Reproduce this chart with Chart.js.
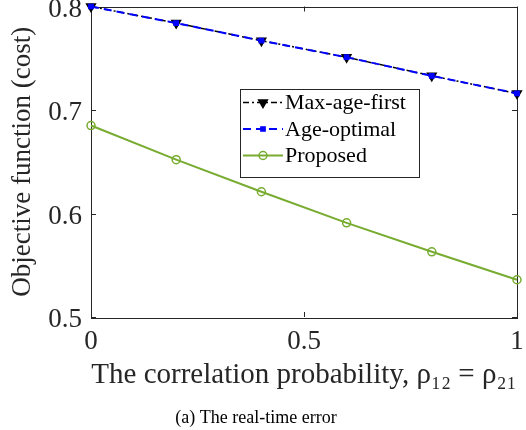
<!DOCTYPE html>
<html><head><meta charset="utf-8">
<script src="https://cdn.jsdelivr.net/npm/chart.js@4/dist/chart.umd.min.js"></script>
<style>html,body{margin:0;padding:0;background:#fff}#wrap{width:526px;height:430px;position:relative}</style>
</head><body><div id="wrap"><canvas id="c" width="526" height="430"></canvas></div>
<script>
const xValues = [0, 0.2, 0.4, 0.6, 0.8, 1];
const maxAgeFirst = [0.800, 0.784, 0.767, 0.751, 0.733, 0.716];
const ageOptimal = [0.800, 0.784, 0.767, 0.751, 0.733, 0.716];
const proposed = [0.685, 0.652, 0.621, 0.591, 0.563, 0.536];
const yTickValues = [0.5, 0.6, 0.7, 0.8];
const xTickValues = [0, 0.5, 1];
const seriesNames = ['Max-age-first', 'Age-optimal', 'Proposed'];
const xTitle = 'The correlation probability, \u03C1\u2081\u2082 = \u03C1\u2082\u2081';
const yTitle = 'Objective function (cost)';
const caption = '(a) The real-time error';

const SERIF = "'Liberation Serif', 'DejaVu Serif', serif";
const AXIS = '#262626';
const styles = [
  {color: '#000000', dash: [6, 3, 2, 3], width: 1.5, point: 'triangle', rot: 180, r: 5, fill: '#000000'},
  {color: '#0000FF', dash: [8, 5], width: 2, point: 'rect', rot: 0, r: 3, fill: '#0000FF'},
  {color: '#77AC30', dash: [], width: 2, point: 'circle', rot: 0, r: 4, fill: 'rgba(0,0,0,0)'}
];
const values = [maxAgeFirst, ageOptimal, proposed];

const datasets = seriesNames.map((name, i) => ({
  label: name,
  data: xValues.map((x, j) => ({x: x, y: values[i][j]})),
  borderColor: styles[i].color,
  borderDash: styles[i].dash,
  borderWidth: styles[i].width,
  pointStyle: styles[i].point,
  pointRotation: styles[i].rot,
  pointRadius: styles[i].r,
  pointBorderWidth: 1.5,
  pointBackgroundColor: styles[i].fill,
  pointBorderColor: styles[i].color,
  backgroundColor: styles[i].fill,
  fill: false,
  tension: 0,
  clip: false,
  order: [1, 0, 2][i]
}));

const boxPlugin = {
  id: 'box',
  beforeDatasetsDraw(chart) {
    const ctx = chart.ctx, a = chart.chartArea;
    const xs = chart.scales.x, ys = chart.scales.y;
    ctx.save();
    ctx.strokeStyle = AXIS; ctx.lineWidth = 1; ctx.setLineDash([]);
    ctx.strokeRect(Math.round(a.left) + 0.5, Math.round(a.top) + 0.5, Math.round(a.right - a.left), Math.round(a.bottom - a.top));
    const tl = 5;
    ctx.beginPath();
    xTickValues.forEach(v => {
      const px = Math.round(xs.getPixelForValue(v)) + 0.5;
      ctx.moveTo(px, a.bottom); ctx.lineTo(px, a.bottom - tl);
      ctx.moveTo(px, a.top); ctx.lineTo(px, a.top + tl);
    });
    yTickValues.forEach(v => {
      const py = Math.round(ys.getPixelForValue(v)) + 0.5;
      ctx.moveTo(a.left, py); ctx.lineTo(a.left + tl, py);
      ctx.moveTo(a.right, py); ctx.lineTo(a.right - tl, py);
    });
    ctx.stroke();
    ctx.restore();
  },
  afterDraw(chart) {
    const ctx = chart.ctx, a = chart.chartArea;
    ctx.save();
    // legend
    const lx = a.left + 149, ly = a.top + 82, lw = 179, lh = 88;
    ctx.fillStyle = '#fff';
    ctx.fillRect(lx, ly, lw, lh);
    ctx.strokeStyle = AXIS; ctx.lineWidth = 1;
    ctx.strokeRect(Math.round(lx) + 0.5, Math.round(ly) + 0.5, lw, lh);
    ctx.font = "22px " + SERIF;
    ctx.textBaseline = 'middle'; ctx.textAlign = 'left';
    seriesNames.forEach((name, i) => {
      const s = styles[i];
      const cy = ly + 14 + i * 26.5;
      ctx.strokeStyle = s.color; ctx.lineWidth = s.width;
      ctx.setLineDash(s.dash);
      ctx.beginPath(); ctx.moveTo(lx + 3, cy); ctx.lineTo(lx + 43, cy); ctx.stroke();
      ctx.setLineDash([]);
      ctx.lineWidth = 1.5;
      ctx.fillStyle = s.fill;
      Chart.helpers.drawPoint(ctx, {pointStyle: s.point, rotation: s.rot, radius: s.r, borderWidth: 1.5}, lx + 23, cy);
      ctx.fillStyle = '#000';
      ctx.fillText(name, lx + 45, cy + 1);
    });

    // caption
    ctx.font = "18px " + SERIF;
    ctx.fillStyle = '#000';
    ctx.textAlign = 'center';
    ctx.fillText(caption, 256, 418);
    ctx.restore();
  }
};

new Chart(document.getElementById('c'), {
  type: 'line',
  data: {datasets: datasets},
  plugins: [boxPlugin],
  options: {
    responsive: false,
    animation: false,
    devicePixelRatio: 1,
    layout: {padding: {left: 0, right: 9, top: 6, bottom: 0}},
    plugins: {legend: {display: false}, tooltip: {enabled: false}, title: {display: false}},
    scales: {
      x: {
        type: 'linear', min: 0, max: 1,
        afterBuildTicks: s => { s.ticks = xTickValues.map(v => ({value: v})); },
        afterFit: s => { s.height = 113; s.paddingLeft = 0; s.paddingRight = 0; },
        grid: {display: false, drawTicks: false},
        border: {display: false},
        ticks: {padding: 9, color: '#262626', font: {size: 27, family: SERIF}, callback: v => String(v)},
        title: {display: true, text: xTitle, color: '#262626', font: {size: 29, family: SERIF}, padding: {top: 0, bottom: 37}}
      },
      y: {
        type: 'linear', min: 0.5, max: 0.8,
        afterBuildTicks: s => { s.ticks = yTickValues.map(v => ({value: v})); },
        afterFit: s => { s.width = 91; s.paddingTop = 0; s.paddingBottom = 0; },
        grid: {display: false, drawTicks: false},
        border: {display: false},
        ticks: {padding: 9, labelOffset: 3, color: '#262626', font: {size: 27, family: SERIF}, callback: v => Number(v).toFixed(1)},
        title: {display: true, text: yTitle, color: '#262626', font: {size: 27, family: SERIF}, padding: {top: 7, bottom: 0}}
      }
    }
  }
});
</script>
</body></html>
